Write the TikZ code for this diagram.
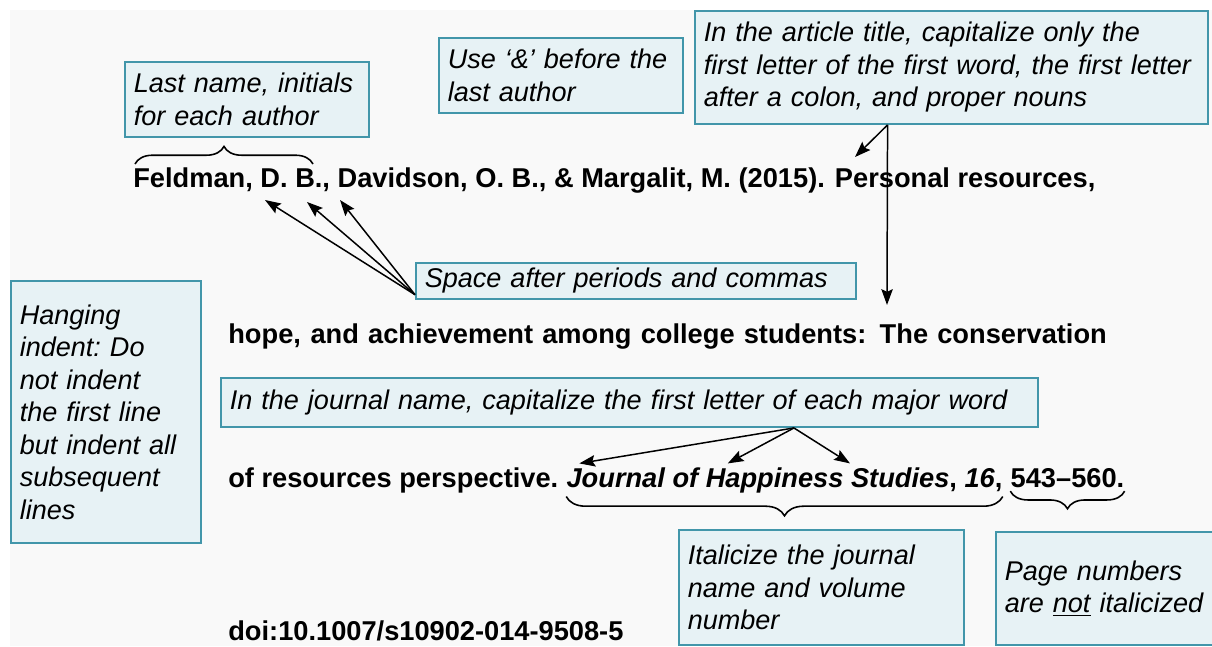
\documentclass[tikz,border=0pt]{standalone}
\usepackage{fontspec}
\setmainfont{Liberation Sans}
\usetikzlibrary{positioning,calc,arrows.meta,decorations.pathreplacing}
\definecolor{boxline}{RGB}{66,150,170}
\definecolor{boxfill}{RGB}{231,242,245}
\definecolor{pagegray}{RGB}{249,249,249}
\newcommand{\notefont}{\fontsize{15.4pt}{18.5pt}\itshape\selectfont\frenchspacing\hyphenpenalty=10000\exhyphenpenalty=10000}
\newcommand{\reffont}{\fontsize{15.5pt}{18pt}\bfseries\selectfont}

\begin{document}
\begin{tikzpicture}[x=0.02cm,y=-0.02cm]

      \tikzset{note/.style={draw=boxline, line width=1.1pt, fill=boxfill, font=\notefont, align=left, anchor=north west, inner xsep=5pt, inner ysep=3pt},
               reftext/.style={font=\reffont, anchor=base west, inner sep=0pt},
               pointer/.style={line width=0.85pt, -{Stealth[length=9pt,width=6.5pt,inset=1.5pt]}},
               curly/.style={line width=0.9pt, decorate}}
%% Page
      	\useasboundingbox (0,0) rectangle (1212,646);
      	\fill[white] (0,0) rectangle (1212,646);
      	\fill[pagegray] (10,10) rectangle (1212,646);
%% Reference lines
      	\node[reftext] (line1) at (133,187) {Feldman, D. B., Davidson, O. B., \& Margalit, M. (2015). Personal resources,};
      	\node[reftext] (line2) at (228,343) {\makebox[500pt][s]{hope, and achievement among college students: The conservation}};
      	\node[reftext] (line3) at (228,487) {of resources perspective.};
      	\node[reftext, base right=4.3pt of line3] (journal) {\textit{Journal of Happiness Studies}, \textit{16},};
      	\node[reftext, base right=4.3pt of journal] (pages) {543–560.};
      	\node[reftext] (doi) at (228,640) {doi:10.1007/s10902-014-9508-5};
%% Notes
      	\node[note, text width=128.8pt, minimum height=42.7pt] (lastname) at (124,61) {Last name, initials\\for each author};
      	\node[note, text width=128.8pt, minimum height=42.7pt] (ampersand) at (438,37) {Use ‘\&’ before the\\last author};
      	\node[note, text width=281.9pt, minimum height=64.3pt] (titlecase) at (694,10) {In the article title, capitalize only the\\first letter of the first word, the first letter\\after a colon, and proper nouns};
      	\node[note, text width=240.4pt, minimum height=20.5pt] (spacing) at (415,262) {Space after periods and commas};
      	\node[note, text width=98.1pt, minimum height=149.1pt] (hanging) at (10,280) {Hanging\\indent: Do\\not indent\\the first line\\but indent all\\subsequent\\lines};
      	\node[note, text width=454.9pt, minimum height=27.9pt] (journalcase) at (220,377) {In the journal name, capitalize the first letter of each major word};
      	\node[note, text width=152pt, minimum height=65.5pt] (italic) at (678,529) {Italicize the journal\\name and volume\\number};
      	\node[note, text width=113.5pt, minimum height=64.3pt] (pagenum) at (995,531) {Page numbers\\are \underline{not} italicized};
%Targets
      	\coordinate (comma1) at (265,200);
      	\coordinate (comma2) at (307,202);
      	\coordinate (comma3) at (340,200);
      	\coordinate (title1) at (855,157);
      	\coordinate (title2) at (887,305);
      	\coordinate (major1) at ($(journal.north west)!0.03!(journal.north east)+(0,2pt)$);
      	\coordinate (major2) at ($(journal.north west)!0.37!(journal.north east)+(0,2pt)$);
      	\coordinate (major3) at ($(journal.north west)!0.65!(journal.north east)+(0,2pt)$);
%Arrows
		\draw[pointer] ([yshift=3pt]spacing.south west) -- (comma1);
		\draw[pointer] ([yshift=3pt]spacing.south west) -- (comma2);
		\draw[pointer] ([yshift=3pt]spacing.south west) -- (comma3);
		\draw[pointer] ($(titlecase.south west)!0.376!(titlecase.south east)$) -- (title1);
		\draw[pointer] ($(titlecase.south west)!0.376!(titlecase.south east)$) -- (title2);
		\draw[pointer] ($(journalcase.south west)!0.701!(journalcase.south east)$) -- (major1);
		\draw[pointer] ($(journalcase.south west)!0.701!(journalcase.south east)$) -- (major2);
		\draw[pointer] ($(journalcase.south west)!0.701!(journalcase.south east)$) -- (major3);
%Braces
		\draw[curly, decoration={brace, amplitude=10pt}] (135,164) -- (313,164);
		\draw[curly, decoration={brace, mirror, amplitude=11pt, aspect=0.5}] ([yshift=-2pt]journal.south west) -- ([yshift=-2pt]journal.south east);
		\draw[curly, decoration={brace, mirror, amplitude=10pt}] ([yshift=-2pt]pages.south west) -- ([yshift=-2pt]pages.south east);

	\end{tikzpicture}
\end{document}
